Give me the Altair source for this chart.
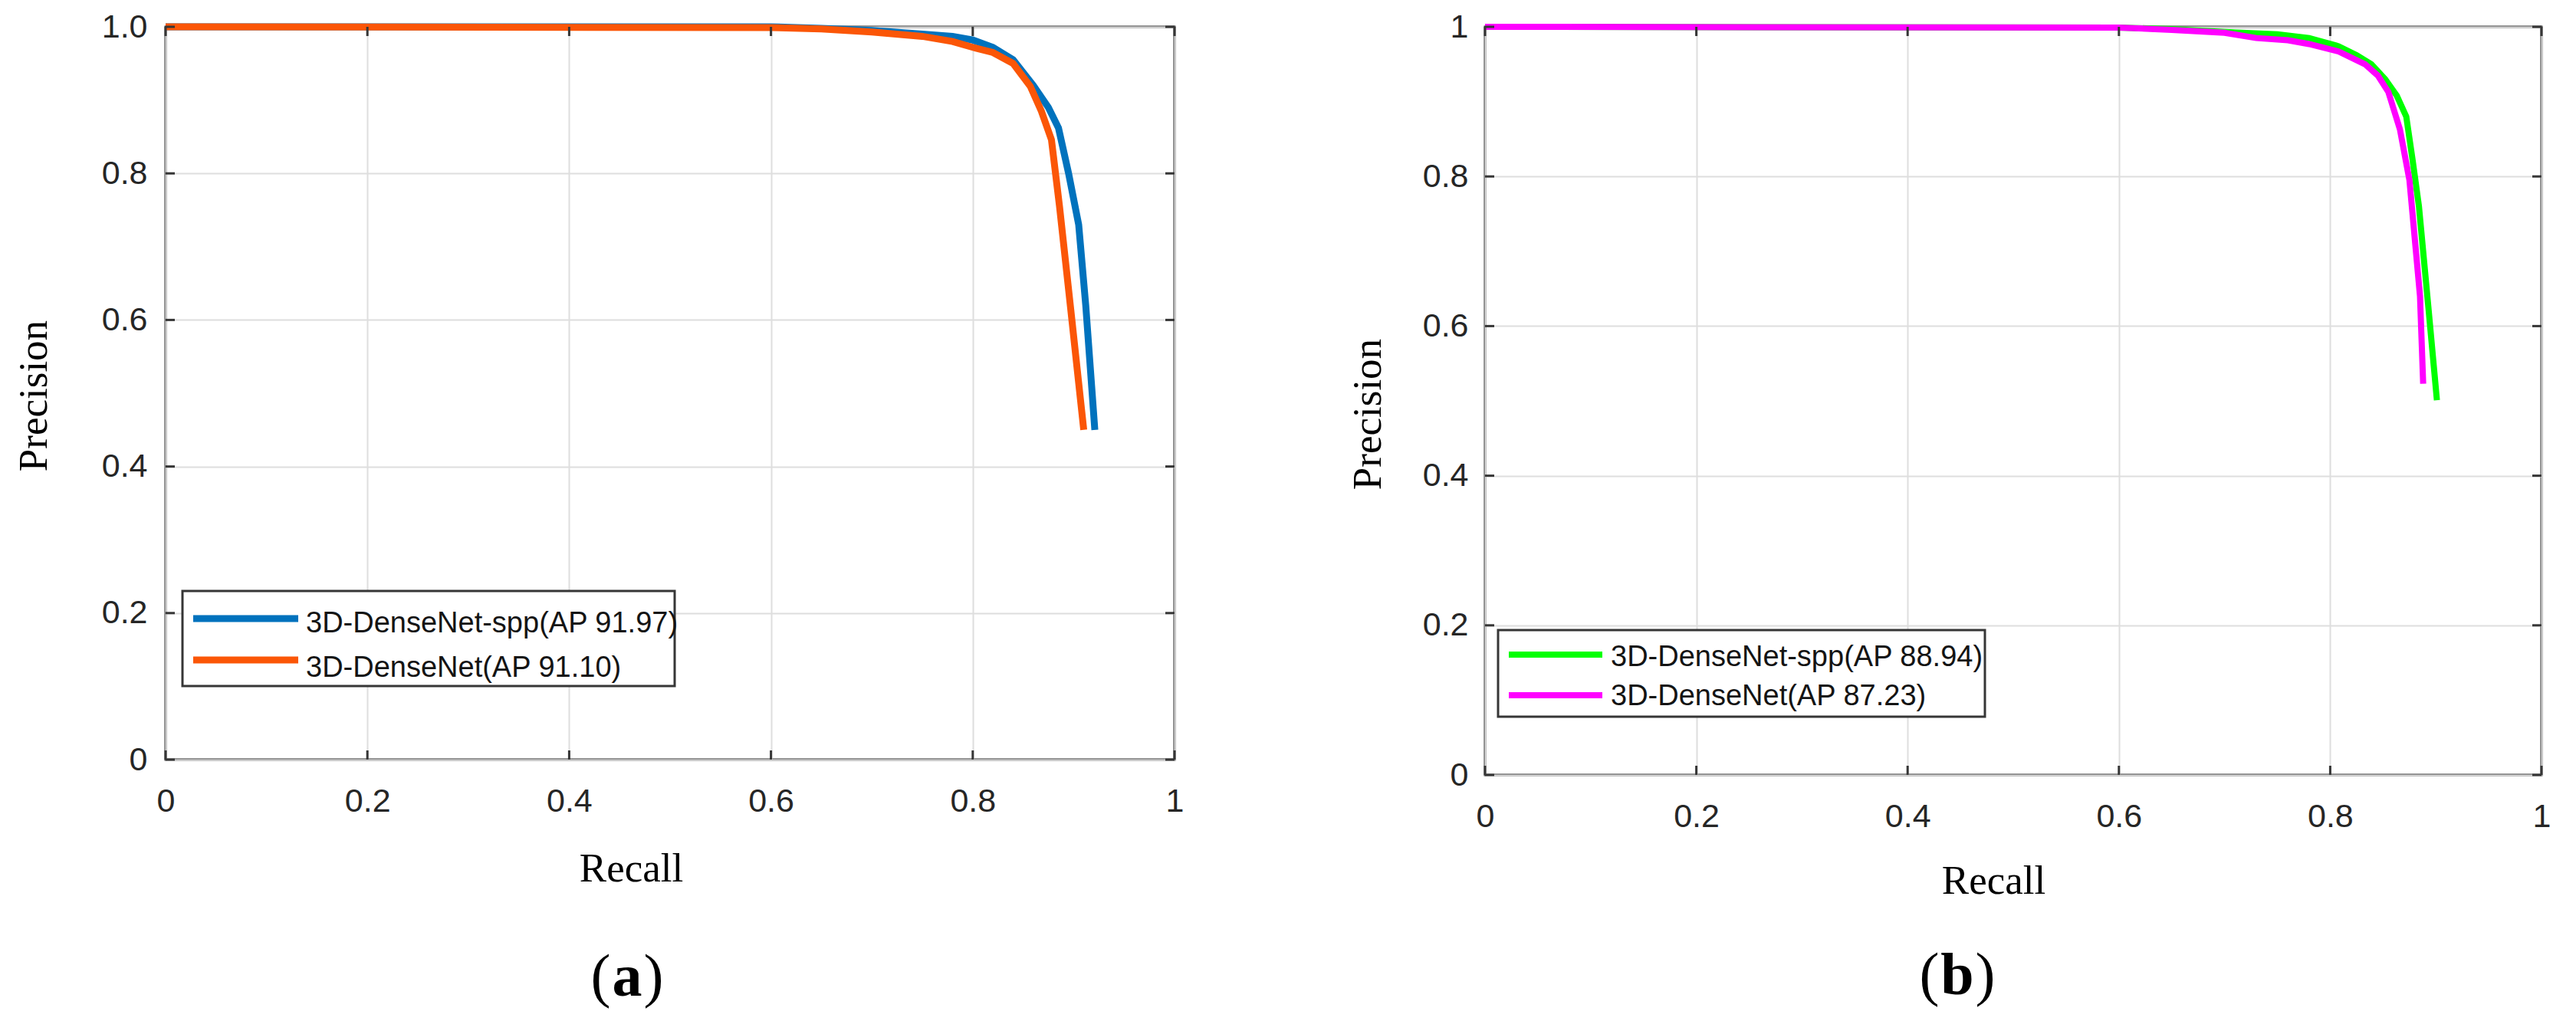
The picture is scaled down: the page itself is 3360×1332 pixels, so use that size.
import json
import altair as alt
import pandas as pd

# ---------------- data ----------------
tick_values = [0, 0.2, 0.4, 0.6, 0.8, 1.0]
x_tick_labels = ["0", "0.2", "0.4", "0.6", "0.8", "1"]
y_tick_labels_a = ["0", "0.2", "0.4", "0.6", "0.8", "1.0"]
y_tick_labels_b = ["0", "0.2", "0.4", "0.6", "0.8", "1"]

# panel (a)
a_spp_recall = [0.0, 0.60, 0.65, 0.70, 0.75, 0.78, 0.80, 0.82, 0.84, 0.86, 0.875, 0.885, 0.895, 0.905, 0.912, 0.921]
a_spp_precision = [1.0, 1.0, 0.998, 0.995, 0.990, 0.987, 0.982, 0.972, 0.955, 0.920, 0.890, 0.862, 0.800, 0.730, 0.620, 0.450]
a_dn_recall = [0.0, 0.60, 0.65, 0.70, 0.75, 0.78, 0.80, 0.82, 0.84, 0.857, 0.868, 0.878, 0.886, 0.897, 0.910]
a_dn_precision = [1.0, 0.999, 0.997, 0.993, 0.987, 0.980, 0.972, 0.965, 0.950, 0.919, 0.885, 0.846, 0.755, 0.616, 0.450]
legend_labels_a = ["3D-DenseNet-spp(AP 91.97)", "3D-DenseNet(AP 91.10)"]

# panel (b)
b_spp_recall = [0.0, 0.60, 0.65, 0.70, 0.75, 0.78, 0.808, 0.825, 0.839, 0.852, 0.863, 0.872, 0.878, 0.884, 0.893, 0.901]
b_spp_precision = [1.0, 0.999, 0.997, 0.993, 0.990, 0.985, 0.974, 0.962, 0.950, 0.930, 0.908, 0.880, 0.822, 0.760, 0.624, 0.501]
b_dn_recall = [0.0, 0.60, 0.65, 0.70, 0.73, 0.76, 0.78, 0.808, 0.833, 0.845, 0.855, 0.866, 0.875, 0.885, 0.888]
b_dn_precision = [1.0, 0.999, 0.996, 0.992, 0.985, 0.982, 0.977, 0.967, 0.950, 0.935, 0.913, 0.863, 0.795, 0.640, 0.523]
legend_labels_b = ["3D-DenseNet-spp(AP 88.94)", "3D-DenseNet(AP 87.23)"]

panel_letters = ["a", "b"]

# ---------------- styles ----------------
FRAME = "#363636"
BLUE = "#0072BD"
ORANGE = "#FB5607"
GREEN = "#00FF00"
MAGENTA = "#FF00FF"
TICK_LEN = 12


def label_expr(labels):
    return json.dumps(labels) + "[round(datum.value * 5)]"


def series_df(r, p):
    return pd.DataFrame({"recall": r, "precision": p, "i": list(range(len(r)))})


def make_panel(series, y_labels, W, H, lw, ytx, yty, xtx, xty, ypad,
               box, rows, letter, lcx, lby, lhalf):
    xs = alt.Scale(domain=[0, 1], nice=False, zero=False)
    ys = alt.Scale(domain=[0, 1], nice=False, zero=False)
    tick_df = pd.DataFrame({"recall": tick_values, "precision": tick_values})

    xaxis = alt.Axis(values=tick_values, labelExpr=label_expr(x_tick_labels),
                     title="Recall", titleX=xtx, titleY=xty,
                     titleBaseline="alphabetic", titleAlign="center",
                     labelPadding=33, labelBaseline="top")
    yaxis = alt.Axis(values=tick_values, labelExpr=label_expr(y_labels),
                     title="Precision", titleX=ytx, titleY=yty, titleAngle=270,
                     titleBaseline="middle", titleAlign="center",
                     labelPadding=ypad)
    X = alt.X("recall:Q", scale=xs, axis=xaxis)
    Y = alt.Y("precision:Q", scale=ys, axis=yaxis)

    layers = []
    # curves (first layer carries both axes)
    for (r, p, c) in series:
        layers.append(alt.Chart(series_df(r, p)).mark_line(color=c, strokeWidth=lw).encode(
            x=X, y=Y, order=alt.Order("i:Q")))

    # inward ticks (MATLAB style) on all four sides
    layers.append(alt.Chart(tick_df).mark_rule(color=FRAME, strokeWidth=3).encode(
        x=X, y=alt.value(H), y2=alt.value(H - TICK_LEN)))
    layers.append(alt.Chart(tick_df).mark_rule(color=FRAME, strokeWidth=3).encode(
        x=X, y=alt.value(0), y2=alt.value(TICK_LEN)))
    layers.append(alt.Chart(tick_df).mark_rule(color=FRAME, strokeWidth=3).encode(
        y=Y, x=alt.value(0), x2=alt.value(TICK_LEN)))
    layers.append(alt.Chart(tick_df).mark_rule(color=FRAME, strokeWidth=3).encode(
        y=Y, x=alt.value(W), x2=alt.value(W - TICK_LEN)))

    # legend box
    bx1, bx2, by1, by2 = box
    layers.append(alt.Chart(pd.DataFrame({"k": [0]})).mark_rect(
        fill="white", stroke=FRAME, strokeWidth=3).encode(
        x=alt.value(bx1), x2=alt.value(bx2), y=alt.value(by1), y2=alt.value(by2)))
    for (lab, c, lx1, lx2, ly, tx, ty) in rows:
        d = pd.DataFrame({"label": [lab]})
        layers.append(alt.Chart(d).mark_rule(color=c, strokeWidth=lw).encode(
            x=alt.value(lx1), x2=alt.value(lx2), y=alt.value(ly)))
        layers.append(alt.Chart(d).mark_text(
            align="left", baseline="alphabetic", font="Liberation Sans",
            fontSize=38, color="#141414").encode(
            x=alt.value(tx), y=alt.value(ty), text="label:N"))

    # panel letter "(x)" with bold letter
    ld = pd.DataFrame({"open": ["("], "letter": [letter], "close": [")"]})
    layers.append(alt.Chart(ld).mark_text(
        align="right", baseline="alphabetic", font="Liberation Serif",
        fontSize=78, color="black").encode(
        x=alt.value(lcx - lhalf - 2), y=alt.value(lby), text="open:N"))
    layers.append(alt.Chart(ld).mark_text(
        align="center", baseline="alphabetic", font="Liberation Serif",
        fontSize=78, fontWeight="bold", color="black").encode(
        x=alt.value(lcx), y=alt.value(lby), text="letter:N"))
    layers.append(alt.Chart(ld).mark_text(
        align="left", baseline="alphabetic", font="Liberation Serif",
        fontSize=78, color="black").encode(
        x=alt.value(lcx + lhalf + 2), y=alt.value(lby), text="close:N"))

    return alt.layer(*layers).properties(width=W, height=H)


panel_a = make_panel(
    series=[(a_spp_recall, a_spp_precision, BLUE), (a_dn_recall, a_dn_precision, ORANGE)],
    y_labels=y_tick_labels_a, W=1316, H=956, lw=9,
    ytx=-172, yty=481, xtx=607, xty=158, ypad=24,
    box=(22, 664, 736, 860),
    rows=[(legend_labels_a[0], BLUE, 36, 173, 772, 183, 790),
          (legend_labels_a[1], ORANGE, 36, 173, 826, 183, 848)],
    letter=panel_letters[0], lcx=602, lby=1264, lhalf=19.5)

panel_b = make_panel(
    series=[(b_spp_recall, b_spp_precision, GREEN), (b_dn_recall, b_dn_precision, MAGENTA)],
    y_labels=y_tick_labels_b, W=1378, H=976, lw=8,
    ytx=-153, yty=505, xtx=663, xty=154, ypad=22,
    box=(17, 652, 787, 900),
    rows=[(legend_labels_b[0], GREEN, 31, 153, 819, 164, 834),
          (legend_labels_b[1], MAGENTA, 31, 153, 872, 164, 885)],
    letter=panel_letters[1], lcx=616, lby=1262, lhalf=21.5)

chart = alt.hconcat(panel_a, panel_b, spacing=210).properties(
    padding={"left": 8, "top": 4, "right": 5, "bottom": 0},
    background="white",
).configure_view(
    stroke=FRAME, strokeWidth=3
).configure_axis(
    grid=True, gridColor="#DEDEDE", gridWidth=2,
    domain=False, ticks=False, tickSize=0,
    labelFont="Liberation Sans", labelFontSize=43, labelColor="#262626",
    labelFlush=False, labelOverlap=False,
    titleFont="Liberation Serif", titleFontSize=53, titleColor="black",
    titleFontWeight="normal",
)

chart.save("out.html", embed_options={"renderer": "svg", "actions": False})
